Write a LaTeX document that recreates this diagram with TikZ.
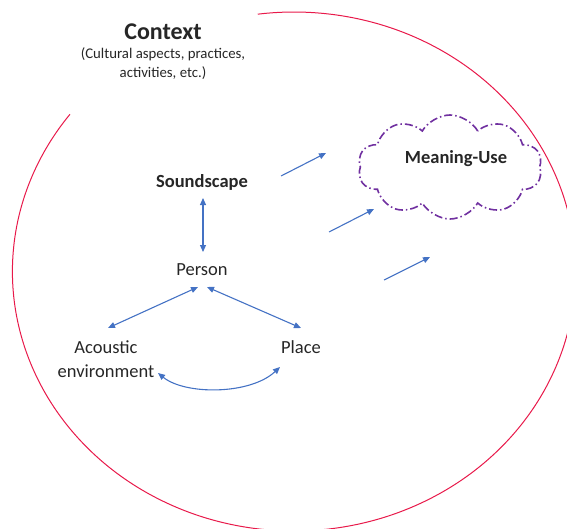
\documentclass[tikz,border=0pt]{standalone}
\usepackage{fontspec}
\setmainfont{Carlito}
\usetikzlibrary{shapes.symbols,arrows.meta,calc}
\definecolor{ctxred}{HTML}{E8194A}
\definecolor{arrblue}{HTML}{4472C4}
\definecolor{cloudpurp}{HTML}{7030A0}
\definecolor{txt}{HTML}{262626}
\tikzset{
  lab/.style={text=txt, inner sep=0pt, font=\fontsize{18.5}{24}\selectfont},
  boldlab/.style={lab, font=\bfseries\fontsize{18.5}{24}\selectfont},
  biarrow/.style={draw=arrblue, line width=1.1pt, {Triangle[length=7pt,width=6pt]}-{Triangle[length=7pt,width=6pt]}},
  onearrow/.style={draw=arrblue, line width=1.1pt, -{Triangle[length=7pt,width=6pt]}},
  cloudbox/.style={cloud, cloud puffs=10, cloud puff arc=120, aspect=1.8, draw=cloudpurp, line width=1.6pt,
     dash pattern=on 8pt off 3pt on 1.5pt off 3pt, minimum width=184pt, minimum height=104pt, inner sep=0pt}
}
\begin{document}
\begin{tikzpicture}[x=1pt,y=-1pt]
\useasboundingbox (0,0) rectangle (567,528);
% context boundary
\draw[ctxred, line width=1pt] plot[domain=142.7:457.4, samples=300, smooth] ({294+281.6*cos(\x)}, {271.5-259.5*sin(\x)});
% context title
\node[lab, font=\bfseries\fontsize{24}{28}\selectfont] (ctx) at (163,32) {Context};
\node[lab, font=\fontsize{14.8}{19}\selectfont, align=center] (ctxsub) at (163,64) {(Cultural aspects, practices,\\activities, etc.)};
% cloud
\node[cloudbox] (cl) at (450,167) {};
\node[boldlab] (mu) at (456,159) {Meaning-Use};
% main nodes
\node[boldlab] (snd) at (202,182) {Soundscape};
\node[lab] (per) at (202,270) {Person};
\node[lab, align=center] (ac) at (106,359) {Acoustic\\environment};
\node[lab] (pl) at (301,347) {Place};
% connectors
\draw[biarrow] ($(snd)+(1,16)$) -- ($(per)+(1,-18)$);
\draw[biarrow] ($(per)+(-4,17)$) -- ($(ac)+(2,-31)$);
\draw[biarrow] ($(per)+(5,17)$) -- ($(pl)+(0,-19)$);
\draw[biarrow] ($(ac)+(52,14)$) .. controls (185,395) and (250,395) .. ($(pl)+(-21,20)$);
% free arrows
\coordinate (f1s) at (281,176); \coordinate (f1e) at (326,153);
\coordinate (f2s) at (329,232); \coordinate (f2e) at (374,209);
\coordinate (f3s) at (384,280); \coordinate (f3e) at (430,257);
\draw[onearrow] (f1s) -- (f1e);
\draw[onearrow] (f2s) -- (f2e);
\draw[onearrow] (f3s) -- (f3e);
\end{tikzpicture}
\end{document}
